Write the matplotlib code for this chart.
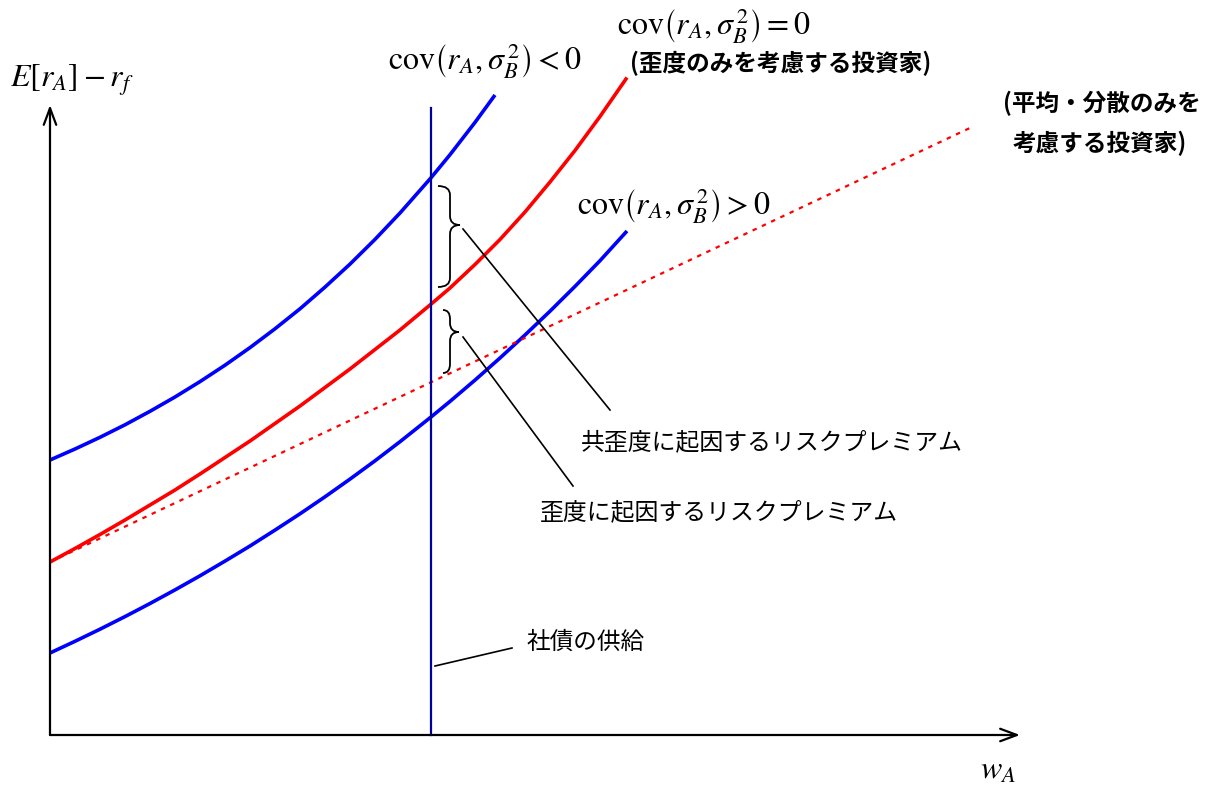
import numpy as np
import matplotlib
matplotlib.use('Agg')
import matplotlib.pyplot as plt
from matplotlib.path import Path
from matplotlib.patches import PathPatch

plt.rcParams['mathtext.fontset'] = 'stix'
jp = ['Noto Sans CJK JP', 'DejaVu Sans']

# demand curves (w_A, E[r_A]-r_f), schematic units
w_neg = [0, 25, 50, 75, 100, 125, 150, 175, 200, 225, 250, 275, 300, 325, 350,
         381, 400, 425, 445]
v_neg = [275, 286, 297.7, 310.2, 323.7, 338, 353.4, 369.8, 387.4, 406.2, 426.2,
         447.9, 470.9, 495.6, 522, 557.2, 580.3, 612.6, 640]

w_zero = [0, 25, 50, 75, 100, 125, 150, 175, 200, 225, 250, 275, 300, 325, 350,
          380, 400, 425, 450, 475, 500, 525, 550, 577]
v_zero = [173, 186.5, 200.5, 215, 230, 245, 261, 277.5, 294, 311.5, 329, 347.5,
          366, 385.5, 405, 430, 447, 470.5, 495.5, 523, 553, 584.5, 618.5, 657.5]

w_pos = [0, 25, 50, 75, 100, 125, 150, 175, 200, 225, 250, 275, 300, 325, 350,
         381, 400, 425, 450, 475, 500, 525, 550, 577]
v_pos = [82, 93.7, 105.8, 118.4, 131.5, 145.1, 159.2, 173.9, 189, 204.9, 221.2,
         238.2, 255.9, 274.2, 293.3, 318, 333.6, 354.9, 377, 400, 423.8, 448.6,
         474.3, 504]

# mean-variance investor
w_mv = [0, 922]
v_mv = [173, 608]

# bond supply
w_supply = 381
v_supply = [0, 627]

fig = plt.figure(figsize=(12.11, 7.85), dpi=100)
ax = fig.add_axes([0, 0, 1, 1])
ax.set_xlim(-50, 1161)
ax.set_ylim(-50, 735)
ax.axis('off')

ax.plot(w_neg, v_neg, color='#0000ff', lw=2.6, solid_capstyle='butt')
ax.plot(w_zero, v_zero, color='#ff0000', lw=2.6, solid_capstyle='butt')
ax.plot(w_pos, v_pos, color='#0000ff', lw=2.6, solid_capstyle='butt')
ax.plot(w_mv, v_mv, color='#ff0000', lw=1.6, linestyle=(0, (2, 2.6)))
ax.plot([w_supply, w_supply], v_supply, color='#0000a0', lw=1.6)

# axes with open arrowheads
arr = dict(arrowstyle='->,head_length=1.2,head_width=0.45', lw=1.6, color='black',
           shrinkA=0, shrinkB=0)
ax.annotate('', xy=(0, 630), xytext=(0, 0), arrowprops=arr)
ax.annotate('', xy=(970, 0), xytext=(0, 0), arrowprops=arr)


def brace(x0, xm, xt, ya, yt, yb, r=9):
    verts = [(x0, ya), (xm, ya), (xm, ya - r),
             (xm, yt + r),
             (xm, yt), (xt, yt), (xt, yt),
             (xm, yt), (xm, yt - r),
             (xm, yb + r),
             (xm, yb), (x0, yb)]
    codes = [Path.MOVETO, Path.CURVE3, Path.CURVE3,
             Path.LINETO,
             Path.CURVE3, Path.CURVE3, Path.MOVETO,
             Path.CURVE3, Path.CURVE3,
             Path.LINETO,
             Path.CURVE3, Path.CURVE3]
    ax.add_patch(PathPatch(Path(verts, codes), fill=False, lw=1.3, color='black'))


brace(388, 400, 410, 549, 510, 448)
brace(393, 400, 409, 425, 403, 362)

# leader lines
ax.plot([413, 560], [506, 325], color='black', lw=1.2)
ax.plot([413, 523], [398, 249], color='black', lw=1.2)
ax.plot([385, 462], [69, 87], color='black', lw=1.2)

# labels
ax.text(-40, 655, r'$E\left[r_A\right]-r_f$', fontsize=23, ha='left', va='center')
ax.text(930, -35, r'$w_A$', fontsize=23, ha='left', va='center')
ax.text(338, 675, r'$\mathrm{cov}\left(r_A,\sigma_B^{\,2}\right)<0$', fontsize=23,
        ha='left', va='center')
ax.text(567, 710, r'$\mathrm{cov}\left(r_A,\sigma_B^{\,2}\right)=0$', fontsize=23,
        ha='left', va='center')
ax.text(527, 530, r'$\mathrm{cov}\left(r_A,\sigma_B^{\,2}\right)>0$', fontsize=23,
        ha='left', va='center')

ax.text(580, 672, '(歪度のみを考慮する投資家)', family=jp, fontsize=17,
        fontweight='bold', ha='left', va='center')
ax.text(953, 632, '(平均・分散のみを', family=jp, fontsize=17,
        fontweight='bold', ha='left', va='center')
ax.text(963, 592, '考慮する投資家)', family=jp, fontsize=17,
        fontweight='bold', ha='left', va='center')

ax.text(531, 292, '共歪度に起因するリスクプレミアム', family=jp, fontsize=17.2,
        ha='left', va='center')
ax.text(490, 222, '歪度に起因するリスクプレミアム', family=jp, fontsize=17.2,
        ha='left', va='center')
ax.text(477, 93, '社債の供給', family=jp, fontsize=17, ha='left', va='center')

fig.savefig('out.png', dpi=100)
